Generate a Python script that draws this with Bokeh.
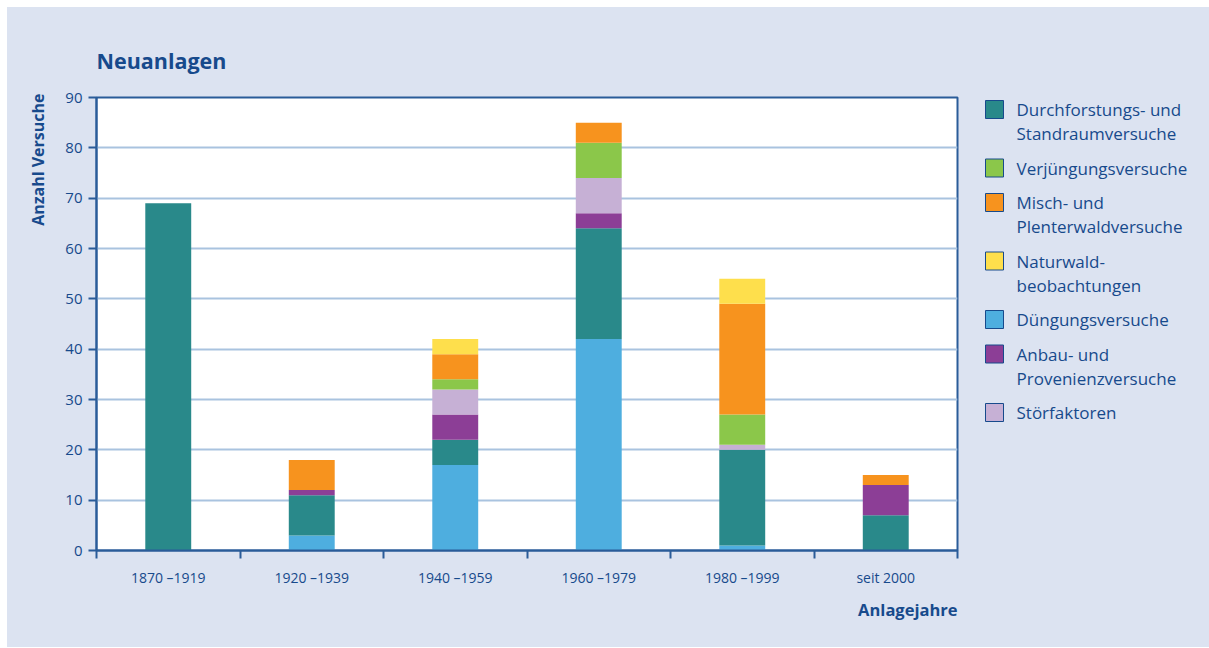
from bokeh.plotting import figure
from bokeh.models import (Range1d, FixedTicker, Title, ColumnDataSource)
from bokeh.layouts import row
from bokeh.embed import file_html
from bokeh.resources import INLINE
from bokeh.core.properties import value

categories = ["1870 –1919", "1920 –1939", "1940 –1959", "1960 –1979", "1980 –1999", "seit 2000"]
duengung = [0, 3, 17, 42, 1, 0]
durchforstung = [69, 8, 5, 22, 19, 7]
anbau = [0, 1, 5, 3, 0, 6]
stoerfaktoren = [0, 0, 5, 7, 1, 0]
verjuengung = [0, 0, 2, 7, 6, 0]
misch = [0, 6, 5, 4, 22, 2]
naturwald = [0, 0, 3, 0, 5, 0]
y_ticks = [0, 10, 20, 30, 40, 50, 60, 70, 80, 90]

stack_keys = ["duengung", "durchforstung", "anbau", "stoerfaktoren", "verjuengung", "misch", "naturwald"]
colors = {
    "durchforstung": "#29898a",
    "verjuengung": "#8bc74a",
    "misch": "#f7931e",
    "naturwald": "#fedf4c",
    "duengung": "#4eaedf",
    "anbau": "#8c3e96",
    "stoerfaktoren": "#c6b0d5",
}
legend_order = [
    ("durchforstung", ["Durchforstungs- und", "Standraumversuche"]),
    ("verjuengung", ["Verjüngungsversuche"]),
    ("misch", ["Misch- und", "Plenterwaldversuche"]),
    ("naturwald", ["Naturwald-", "beobachtungen"]),
    ("duengung", ["Düngungsversuche"]),
    ("anbau", ["Anbau- und", "Provenienzversuche"]),
    ("stoerfaktoren", ["Störfaktoren"]),
]

DARK = "#174a8c"
AXIS = "#2a5c99"
BG = "#dce3f1"
FONT = "Open Sans"

FRAME_H = 453
xpos = [i + 0.5 for i in range(len(categories))]
source = ColumnDataSource(dict(x=xpos, duengung=duengung, durchforstung=durchforstung,
                               anbau=anbau, stoerfaktoren=stoerfaktoren,
                               verjuengung=verjuengung, misch=misch, naturwald=naturwald))

p = figure(width=956, height=640, output_backend="svg", toolbar_location=None,
           x_range=Range1d(0, len(categories)), y_range=Range1d(0, 90),
           min_border_left=89, min_border_top=90, min_border_bottom=97,
           min_border_right=6)

p.border_fill_color = BG
p.background_fill_color = "white"
p.outline_line_color = AXIS
p.outline_line_width = 2

p.vbar_stack(stack_keys, x="x", width=0.32, source=source,
             color=[colors[k] for k in stack_keys], line_color=None)

# title
p.title.text = "Neuanlagen"
p.title.text_font = FONT
p.title.text_font_size = "21.5px"
p.title.text_font_style = "bold"
p.title.text_color = DARK
p.title.standoff = 45

# axis titles
p.add_layout(Title(text="Anzahl Versuche", align="right", text_font=FONT,
                   text_font_size="16px", text_font_style="bold",
                   text_color=DARK, standoff=28, offset=-4), "left")
p.add_layout(Title(text="Anlagejahre", align="right", text_font=FONT,
                   text_font_size="16.5px", text_font_style="bold",
                   text_color=DARK, standoff=12), "below")

# y axis
p.yaxis.ticker = FixedTicker(ticks=y_ticks)
p.yaxis.axis_line_color = AXIS
p.yaxis.axis_line_width = 2
p.yaxis.major_tick_line_color = AXIS
p.yaxis.major_tick_line_width = 2
p.yaxis.major_tick_out = 8
p.yaxis.major_tick_in = 0
p.yaxis.minor_tick_line_color = None
p.yaxis.major_label_text_font = FONT
p.yaxis.major_label_text_font_size = "15px"
p.yaxis.major_label_text_color = DARK
p.yaxis.major_label_standoff = 6

# x axis
p.xaxis.ticker = FixedTicker(ticks=xpos, minor_ticks=list(range(len(categories) + 1)))
p.xaxis.major_label_overrides = {x: c for x, c in zip(xpos, categories)}
p.xaxis.axis_line_color = AXIS
p.xaxis.axis_line_width = 2
p.xaxis.major_tick_line_color = None
p.xaxis.major_tick_out = 8
p.xaxis.major_tick_in = 0
p.xaxis.minor_tick_line_color = AXIS
p.xaxis.minor_tick_line_width = 2
p.xaxis.minor_tick_out = 8
p.xaxis.minor_tick_in = 0
p.xaxis.major_label_text_font = FONT
p.xaxis.major_label_text_font_size = "14px"
p.xaxis.major_label_text_color = DARK
p.xaxis.major_label_standoff = 9

p.xgrid.grid_line_color = None
p.ygrid.ticker = FixedTicker(ticks=y_ticks)
p.ygrid.grid_line_color = "#a9c3df"
p.ygrid.grid_line_width = 2

# legend panel: a pixel-scaled canvas (y grows downward from the frame top)
LEG_W, LEG_H = 246, 640
leg = figure(width=LEG_W, height=LEG_H, output_backend="svg", toolbar_location=None,
             x_range=Range1d(0, LEG_W), y_range=Range1d(FRAME_H, 0),
             x_axis_location=None, y_axis_location=None, title=None,
             min_border=0)
leg.border_fill_color = BG
leg.background_fill_color = BG
leg.outline_line_color = None
leg.grid.visible = False

first_line = 12.0
line_step = 24.0
item_gap = 10.5
swatch_x, text_x = 31, 53
sw_x, sw_y, sw_c, tx, ty, tt = [], [], [], [], [], []
y = first_line
for key, lines in legend_order:
    sw_x.append(swatch_x)
    sw_y.append(y)
    sw_c.append(colors[key])
    for i, line in enumerate(lines):
        tx.append(text_x)
        ty.append(y + i * line_step)
        tt.append(line)
    y += len(lines) * line_step + item_gap

leg.scatter(sw_x, sw_y, marker="square", size=18, fill_color=sw_c,
            line_color=DARK, line_width=1)
leg.text(tx, ty, text=tt, text_font=value(FONT), text_font_size="17px",
         text_color=DARK, text_baseline="middle", text_align="left")

layout = row(p, leg, margin=(7, 0, 0, 7), styles={"background-color": BG})
open("out.html", "w").write(file_html(layout, INLINE))
